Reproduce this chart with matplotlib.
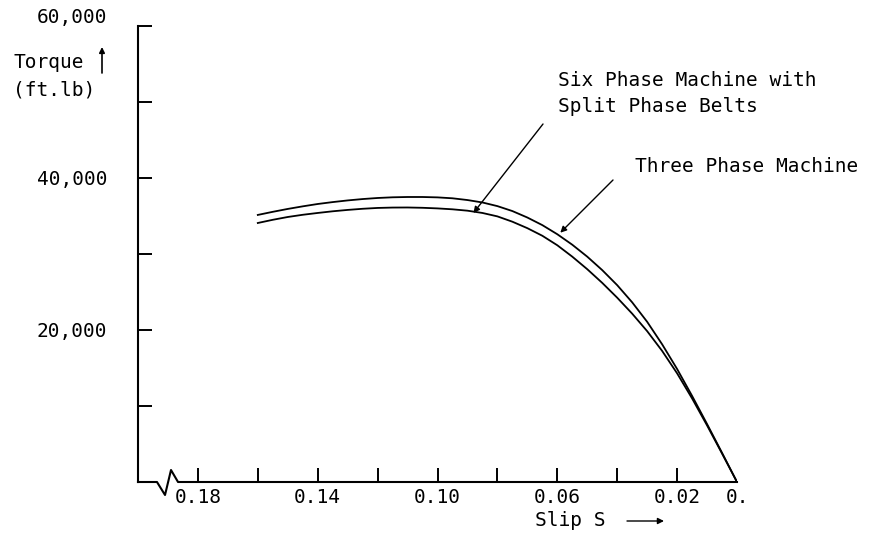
import matplotlib.pyplot as plt
from matplotlib.lines import Line2D

# torque vs slip
slip = [0.16, 0.155, 0.15, 0.145, 0.14, 0.135, 0.13, 0.125, 0.12, 0.115, 0.11,
        0.105, 0.10, 0.095, 0.09, 0.085, 0.08, 0.075, 0.07, 0.065, 0.06,
        0.055, 0.05, 0.045, 0.04, 0.035, 0.03, 0.025, 0.02, 0.015, 0.01,
        0.005, 0.0]
torque_three = [35140, 35550, 35930, 36270, 36580, 36830, 37050, 37230, 37370, 37460, 37500,
                37500, 37450, 37330, 37100, 36780, 36300, 35650, 34800, 33800, 32600,
                31220, 29650, 27880, 25900, 23640, 21080, 18120, 14870, 11330, 7630,
                3840, 0]
torque_six = [34080, 34500, 34870, 35160, 35400, 35620, 35800, 35950, 36060, 36110, 36120,
              36080, 36000, 35880, 35700, 35400, 34950, 34250, 33400, 32400, 31150,
              29650, 28000, 26200, 24250, 22150, 19850, 17250, 14300, 11000, 7450,
              3750, 0]

xtick_vals = [0.18, 0.16, 0.14, 0.12, 0.10, 0.08, 0.06, 0.04, 0.02, 0.0]
xtick_labels = ['0.18', '', '0.14', '', '0.10', '', '0.06', '', '0.02', '0.']
ytick_vals = [0, 10000, 20000, 30000, 40000, 50000, 60000]
ytick_labels = ['', '', '20,000', '', '40,000', '', '']

plt.rcParams['font.family'] = ['DejaVu Sans Mono']
plt.rcParams['font.size'] = 14

W, H = 869, 534
fig = plt.figure(figsize=(W / 100, H / 100), dpi=100)
ax = fig.add_axes([138 / W, 52 / H, 599 / W, 456 / H])


def fpx(x, y):
    # pixel position measured from the top-left corner -> figure pixels
    return (x, H - y)


ax.plot(slip, torque_three, color='black', lw=1.3)
ax.plot(slip, torque_six, color='black', lw=1.3)

ax.set_xlim(0.2, 0.0)
ax.set_ylim(0, 60000)

ax.set_xticks(xtick_vals)
ax.set_xticklabels(xtick_labels)
ax.set_yticks(ytick_vals)
ax.set_yticklabels(ytick_labels)
ax.tick_params(axis='both', direction='in', length=10, width=1.4, colors='black')
ax.tick_params(axis='y', pad=22)
ax.tick_params(axis='x', pad=4)
ax.xaxis.get_major_ticks()[-1].tick1line.set_visible(False)
ax.yaxis.get_major_ticks()[0].tick1line.set_visible(False)

for side in ['top', 'right', 'bottom']:
    ax.spines[side].set_visible(False)
ax.spines['left'].set_linewidth(1.5)

# x axis with a break near the left end
brk = Line2D([0, 0.0317, 0.0451, 0.0551, 0.0668, 1.0],
             [0, 0, -0.0285, 0.0263, 0, 0],
             transform=ax.transAxes, color='black', lw=1.5, clip_on=False)
ax.add_line(brk)

# top label sits a little above its tick in the original
fig.text(107 / W, 1 - 17 / H, '60,000', ha='right', va='center')

# axis titles
fig.text(13 / W, 1 - 63 / H, 'Torque', ha='left', va='center')
fig.text(13 / W, 1 - 90 / H, '(ft.lb)', ha='left', va='center')
ax.annotate('', xy=fpx(102, 47), xycoords='figure pixels',
            xytext=fpx(102, 73), textcoords='figure pixels',
            arrowprops=dict(arrowstyle='-|>', lw=1.2, color='black', mutation_scale=8,
                            shrinkA=0, shrinkB=0))
fig.text(535 / W, 1 - 520 / H, 'Slip S', ha='left', va='center')
ax.annotate('', xy=fpx(664, 521), xycoords='figure pixels',
            xytext=fpx(627, 521), textcoords='figure pixels',
            arrowprops=dict(arrowstyle='-|>', lw=1, color='black', mutation_scale=9,
                            shrinkA=0, shrinkB=0))

# curve labels
fig.text(558 / W, 1 - 80 / H, 'Six Phase Machine with', ha='left', va='center')
fig.text(558 / W, 1 - 106 / H, 'Split Phase Belts', ha='left', va='center')
fig.text(635 / W, 1 - 167 / H, 'Three Phase Machine', ha='left', va='center')

ax.annotate('', xy=(0.088, 35400), xycoords='data',
            xytext=fpx(543, 124), textcoords='figure pixels',
            arrowprops=dict(arrowstyle='-|>', lw=1, color='black', mutation_scale=9,
                            shrinkA=0, shrinkB=0))
ax.annotate('', xy=(0.059, 32800), xycoords='data',
            xytext=fpx(613, 180), textcoords='figure pixels',
            arrowprops=dict(arrowstyle='-|>', lw=1, color='black', mutation_scale=9,
                            shrinkA=0, shrinkB=0))

fig.savefig('out.png', dpi=100)
